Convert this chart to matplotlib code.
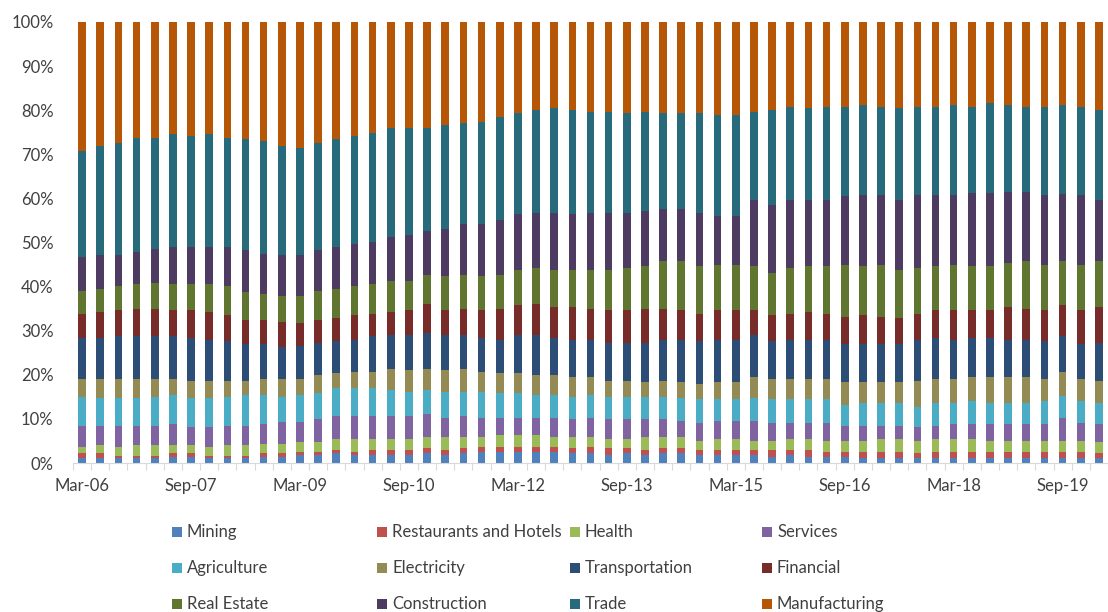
import numpy as np
import pandas as pd
import matplotlib
matplotlib.use("Agg")
import matplotlib.pyplot as plt
from matplotlib.patches import Rectangle

plt.rcParams['font.family'] = ['Lato', 'DejaVu Sans']

# Quarterly share of credit by sector (%), Mar-06 .. Mar-20
quarters = pd.date_range("2006-03-31", "2020-03-31", freq="QE").strftime("%b-%y").tolist()

mining = [1.1, 1.1, 1.1, 1.1, 1.1, 1.4, 1.4, 1.1, 1.1, 1.1,
          1.4, 1.4, 1.8, 1.8, 2.2, 1.8, 1.8, 1.8, 1.8, 2.2,
          1.8, 2.2, 2.6, 2.6, 2.6, 2.6, 2.6, 2.2, 2.2, 1.8,
          2.2, 1.8, 2.2, 2.2, 1.8, 1.8, 1.8, 1.8, 1.4, 1.8,
          1.4, 1.4, 1.4, 1.1, 1.1, 1.1, 1.1, 1.1, 1.1, 1.1,
          1.1, 1.1, 1.1, 1.1, 1.1, 1.1, 1.1]
restaurants = [1.1, 1.1, 0.6, 0.6, 0.6, 0.8, 0.8, 0.6, 0.6, 0.6,
               0.8, 0.8, 0.8, 0.8, 0.7, 0.8, 1.1, 1.1, 1.1, 1.1,
               1.1, 1.1, 1.1, 1.1, 1.1, 1.1, 1.1, 1.1, 1.5, 1.5,
               1.1, 1.1, 1.1, 1.1, 1.1, 1.1, 1.1, 1.1, 1.5, 1.1,
               1.5, 1.2, 1.2, 1.5, 1.5, 1.5, 1.1, 1.5, 1.5, 1.5,
               1.5, 1.5, 1.5, 1.5, 1.5, 1.5, 1.1]
health = [1.5, 1.8, 1.9, 2.3, 2.3, 1.8, 1.8, 1.9, 2.3, 2.3,
          2.2, 2.2, 2.2, 2.2, 2.6, 2.9, 2.6, 2.6, 2.6, 2.6,
          3.0, 2.6, 2.2, 2.6, 2.6, 2.6, 2.2, 2.6, 2.2, 2.2,
          2.2, 3.0, 2.6, 2.6, 2.2, 2.6, 2.6, 2.2, 2.2, 2.6,
          2.6, 2.5, 2.5, 2.5, 2.9, 2.9, 2.9, 2.9, 2.9, 2.9,
          2.5, 2.5, 2.5, 2.5, 2.5, 2.5, 2.6]
services = [4.8, 4.5, 4.9, 4.5, 4.5, 4.8, 4.1, 4.5, 4.5, 4.5,
            4.4, 4.8, 4.4, 5.1, 5.2, 5.2, 5.2, 5.2, 5.2, 5.1,
            4.4, 4.8, 4.4, 4.0, 4.0, 4.0, 4.4, 4.0, 4.4, 4.4,
            4.4, 4.0, 4.0, 3.6, 4.0, 4.0, 4.0, 4.4, 4.0, 3.6,
            3.6, 4.0, 3.4, 3.4, 3.0, 3.0, 3.0, 3.0, 3.3, 3.3,
            3.7, 3.7, 3.7, 3.7, 5.2, 4.0, 4.0]
agriculture = [6.5, 6.3, 6.3, 6.3, 6.5, 6.6, 6.6, 6.6, 6.5, 6.9,
               6.6, 5.8, 6.2, 5.9, 6.2, 6.2, 6.2, 5.9, 5.5, 5.6,
               5.9, 5.5, 5.9, 5.5, 5.5, 5.1, 5.1, 5.1, 5.1, 5.1,
               5.1, 5.1, 5.1, 5.2, 5.3, 4.9, 4.9, 5.2, 5.3, 5.3,
               5.3, 5.3, 4.7, 5.1, 5.1, 5.1, 4.7, 5.1, 4.8, 5.2,
               4.8, 4.8, 4.8, 5.2, 4.8, 4.9, 4.8]
electricity = [4.1, 4.3, 4.3, 4.3, 4.1, 3.7, 4.0, 4.0, 3.7, 3.3,
               3.7, 4.1, 3.7, 4.1, 3.4, 3.7, 3.7, 4.8, 4.8, 4.8,
               4.8, 5.2, 4.4, 4.5, 4.5, 4.5, 4.5, 4.5, 4.1, 3.7,
               3.7, 3.4, 3.7, 3.7, 3.6, 4.0, 4.0, 4.8, 4.7, 4.7,
               4.7, 4.7, 5.2, 4.8, 4.8, 4.8, 5.9, 5.5, 5.5, 5.5,
               5.9, 5.9, 5.9, 5.1, 5.5, 5.1, 5.1]
transportation = [9.3, 9.3, 9.6, 9.6, 9.6, 9.6, 9.7, 9.3, 9.0, 8.2,
                  7.8, 7.1, 7.4, 7.4, 7.4, 7.4, 8.1, 7.7, 8.1, 8.1,
                  8.1, 7.7, 7.8, 7.7, 8.8, 9.2, 8.5, 8.5, 8.5, 8.6,
                  8.6, 8.9, 9.3, 9.6, 9.7, 9.6, 9.6, 9.6, 8.6, 8.9,
                  8.9, 8.9, 8.5, 8.5, 8.5, 8.5, 9.3, 9.3, 8.9, 8.9,
                  8.9, 8.5, 8.5, 8.6, 8.1, 7.8, 8.6]
financial = [5.5, 5.8, 5.9, 6.3, 6.3, 5.9, 6.2, 6.2, 5.9, 5.5,
             5.5, 5.8, 5.2, 5.1, 5.1, 5.6, 5.2, 5.1, 5.5, 6.6,
             5.5, 5.9, 6.2, 7.0, 6.7, 7.0, 7.0, 7.4, 7.0, 7.3,
             7.3, 7.7, 7.0, 6.6, 6.2, 6.6, 6.6, 5.5, 5.9, 5.9,
             6.2, 5.9, 6.3, 6.7, 6.3, 5.9, 5.9, 6.2, 6.6, 6.2,
             6.2, 7.4, 7.0, 6.9, 7.1, 7.7, 8.1]
real_estate = [5.2, 5.2, 5.5, 5.5, 5.9, 5.9, 5.9, 6.3, 6.5, 6.3,
               5.9, 5.9, 6.2, 6.7, 6.6, 6.5, 6.6, 7.1, 6.7, 6.6,
               7.8, 7.7, 7.8, 7.7, 8.0, 8.1, 8.4, 8.4, 8.8, 9.2,
               9.6, 9.6, 10.7, 11.1, 10.7, 10.4, 10.4, 10.0, 9.5, 10.3,
               10.4, 10.7, 11.8, 11.0, 11.8, 11.0, 10.3, 10.0, 10.4, 10.0,
               10.0, 10.0, 10.7, 10.4, 9.9, 10.4, 10.3]
construction = [7.7, 7.8, 7.1, 7.4, 7.7, 8.5, 8.5, 8.5, 8.9, 9.6,
                9.2, 9.3, 9.3, 9.2, 9.6, 9.6, 9.6, 9.9, 10.3, 10.0,
                10.7, 11.5, 11.8, 12.3, 12.6, 12.6, 13.0, 12.6, 13.0, 13.0,
                12.6, 12.5, 11.8, 11.8, 12.2, 11.0, 11.0, 15.1, 15.5, 15.5,
                15.1, 15.1, 15.5, 16.2, 15.8, 15.9, 16.6, 16.2, 15.8, 16.6,
                16.6, 16.1, 15.8, 15.8, 15.4, 15.8, 14.0]
trade = [23.9, 24.7, 25.4, 25.9, 25.2, 25.5, 25.1, 25.5, 24.8, 25.1,
         25.5, 24.7, 24.3, 24.3, 24.4, 24.4, 24.7, 24.8, 24.4, 23.3,
         23.5, 22.8, 23.2, 23.5, 22.9, 23.2, 23.6, 23.6, 22.9, 22.9,
         22.5, 22.6, 21.8, 21.8, 22.5, 22.9, 22.9, 20.0, 21.4, 21.1,
         20.7, 21.1, 20.3, 20.4, 20.0, 20.7, 20.0, 20.0, 20.4, 19.6,
         20.4, 19.7, 19.3, 20.0, 20.1, 20.0, 20.3]
manufacturing = [29.3, 28.1, 27.4, 26.2, 26.2, 25.5, 25.9, 25.5, 26.2, 26.6,
                 27.0, 28.1, 28.5, 27.4, 26.6, 25.9, 25.2, 24.0, 24.0, 24.0,
                 23.4, 23.0, 22.6, 21.5, 20.7, 20.0, 19.6, 20.0, 20.3, 20.3,
                 20.7, 20.3, 20.7, 20.7, 20.7, 21.1, 21.1, 20.3, 20.0, 19.2,
                 19.6, 19.2, 19.2, 18.8, 19.2, 19.6, 19.2, 19.2, 18.8, 19.2,
                 18.4, 18.8, 19.2, 19.2, 18.8, 19.2, 20.0]

sectors = [
    ("Mining", mining, "#4F81BD"),
    ("Restaurants and Hotels", restaurants, "#C0504D"),
    ("Health", health, "#9BBB59"),
    ("Services", services, "#8064A2"),
    ("Agriculture", agriculture, "#4BACC6"),
    ("Electricity", electricity, "#948A54"),
    ("Transportation", transportation, "#2C4D75"),
    ("Financial", financial, "#772C2A"),
    ("Real Estate", real_estate, "#5F7530"),
    ("Construction", construction, "#4D3B62"),
    ("Trade", trade, "#276A7C"),
    ("Manufacturing", manufacturing, "#B65708"),
]

text_color = "#404040"
W, H = 1108, 612
fig = plt.figure(figsize=(W / 100, H / 100), dpi=100)
ax = fig.add_axes([73 / W, (H - 463) / H, (W - 73) / W, (463 - 22) / H])

x = np.arange(len(quarters))
# normalise each quarter to 100%
totals = np.sum([np.array(v) for _, v, _ in sectors], axis=0)
bottom = np.zeros(len(quarters))
for name, vals, color in sectors:
    share = np.array(vals) / totals * 100
    ax.bar(x, share, bottom=bottom, width=0.42, color=color, label=name, linewidth=0)
    bottom += share

ax.set_xlim(-0.5, 56.0)
ax.set_ylim(0, 100)
ax.set_yticks(np.arange(0, 101, 10))
ax.set_yticklabels([f"{v}%" for v in range(0, 101, 10)])
ax.tick_params(axis="y", length=0, pad=14, labelsize=12, labelcolor=text_color)

ax.set_xticks(x[::6])
ax.set_xticklabels(quarters[::6])
ax.set_xticks(np.arange(-0.5, len(quarters), 1), minor=True)
ax.tick_params(axis="x", which="major", length=0, pad=11, labelsize=12, labelcolor=text_color)
ax.tick_params(axis="x", which="minor", length=5, width=0.8, color="#d9d9d9")

for side in ["top", "right", "left"]:
    ax.spines[side].set_visible(False)
ax.spines["bottom"].set_color("#d9d9d9")
ax.spines["bottom"].set_linewidth(0.8)

# legend: 4 columns x 3 rows under the plot
col_x = [172, 377, 570, 762]
row_y = [532, 568, 604]
for i, (name, _, color) in enumerate(sectors):
    cx = col_x[i % 4]
    cy = row_y[i // 4]
    fig.add_artist(Rectangle((cx / W, (H - cy - 5) / H), 10 / W, 10 / H,
                             transform=fig.transFigure, facecolor=color, edgecolor="none"))
    fig.text((cx + 15) / W, (H - cy) / H, name, ha="left", va="center",
             fontsize=12, color=text_color)

fig.savefig("out.png", dpi=100)
